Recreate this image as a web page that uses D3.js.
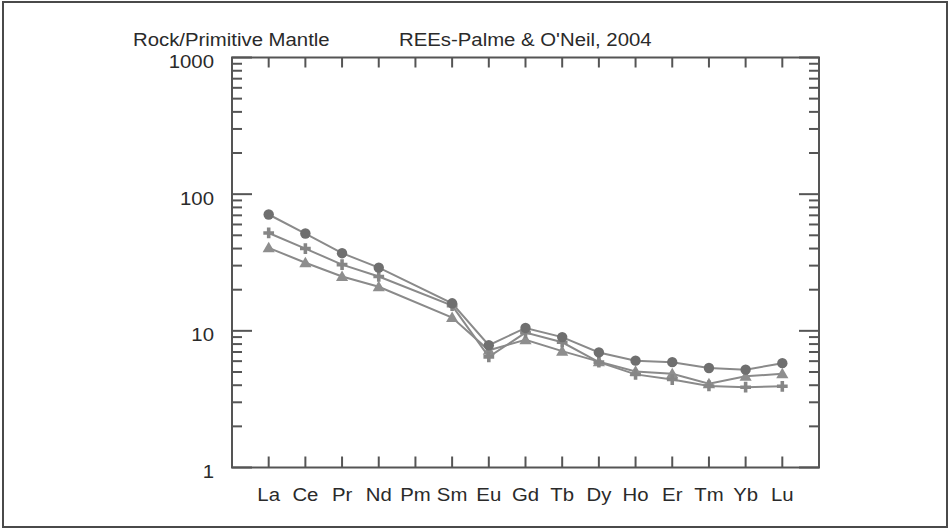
<!DOCTYPE html>
<html><head><meta charset="utf-8">
<script src="https://cdn.jsdelivr.net/npm/d3@7"></script>
<style>html,body{margin:0;padding:0;background:#fff;}svg{display:block;}</style>
</head><body>
<svg id="c" width="949" height="528"></svg>
<script>
const categories = ["La","Ce","Pr","Nd","Pm","Sm","Eu","Gd","Tb","Dy","Ho","Er","Tm","Yb","Lu"];
const seriesCircle   = [71, 51.5, 37, 29, null, 15.9, 7.85, 10.5, 9.0, 6.95, 6.05, 5.9, 5.35, 5.2, 5.8];
const seriesPlus     = [52, 40, 30.5, 25, null, 15.3, 6.45, 9.7, 8.25, 5.9, 4.8, 4.4, 3.95, 3.87, 3.93];
const seriesTriangle = [40.5, 31.5, 25, 21, null, 12.5, 7.2, 8.6, 7.1, 5.95, 5.05, 4.85, 4.1, 4.65, 4.85];
const yTickLabels = [1, 10, 100, 1000];
const titleLeft = "Rock/Primitive Mantle";
const titleRight = "REEs-Palme & O'Neil, 2004";

const svg = d3.select("#c");
const L = 232, R = 819, T = 57.5, B = 467.5;
const axisColor = "#555";
const fontFam = "'Liberation Sans', Arial, Helvetica, sans-serif";
const fs = 18.5, sx = 1.1;

const x = d3.scalePoint().domain(categories).range([L, R]).padding(1);
const y = d3.scaleLog().domain([1, 1000]).range([B, T]);

// outer border
svg.append("rect").attr("x", 3).attr("y", 2).attr("width", 944).attr("height", 525)
  .attr("fill", "none").attr("stroke", "#4a4a4a").attr("stroke-width", 2);

function txt(s, tx, ty, anchor) {
  svg.append("text").attr("transform", `translate(${tx},${ty}) scale(${sx},1)`)
    .attr("text-anchor", anchor).attr("font-family", fontFam).attr("font-size", fs)
    .attr("fill", "#2a2a2a").text(s);
}
// titles
txt(titleLeft, 133, 45.5, "start");
txt(titleRight, 399, 45.5, "start");

// ticks
const g = svg.append("g").attr("stroke", axisColor).attr("stroke-width", 2);
const minor = [];
for (let d = 1; d < 1000; d *= 10) for (let k = 2; k <= 9; k++) minor.push(d * k);
minor.forEach(v => {
  g.append("line").attr("x1", L).attr("x2", L + 10).attr("y1", y(v)).attr("y2", y(v));
  g.append("line").attr("x1", R).attr("x2", R - 10).attr("y1", y(v)).attr("y2", y(v));
});
yTickLabels.forEach(v => {
  g.append("line").attr("x1", L).attr("x2", L + 20).attr("y1", y(v)).attr("y2", y(v));
  g.append("line").attr("x1", R).attr("x2", R - 20).attr("y1", y(v)).attr("y2", y(v));
});
categories.forEach(c => {
  g.append("line").attr("x1", x(c)).attr("x2", x(c)).attr("y1", B).attr("y2", B - 11);
  g.append("line").attr("x1", x(c)).attr("x2", x(c)).attr("y1", T).attr("y2", T + 10);
});
// frame
svg.append("rect").attr("x", L).attr("y", T).attr("width", R - L).attr("height", B - T)
  .attr("fill", "none").attr("stroke", axisColor).attr("stroke-width", 2);

// tick labels
yTickLabels.forEach(v => txt(String(v), 214, y(v) + 10.5, "end"));
categories.forEach(c => txt(c, x(c), 501, "middle"));

// series
const series = [
  {vals: seriesTriangle, sym: d3.symbolTriangle, size: 64, fill: "#8e8e8e"},
  {vals: seriesPlus, sym: d3.symbolCross, size: 64, fill: "#868686"},
  {vals: seriesCircle, sym: d3.symbolCircle, size: 85, fill: "#6f6f6f"}
];
const line = d3.line().x(d => x(d.c)).y(d => y(d.v));
series.forEach(s => {
  const pts = categories.map((c, i) => ({c, v: s.vals[i]})).filter(d => d.v != null);
  svg.append("path").attr("d", line(pts)).attr("fill", "none")
    .attr("stroke", "#8a8a8a").attr("stroke-width", 2);
  svg.append("g").selectAll("path").data(pts).join("path")
    .attr("transform", d => `translate(${x(d.c)},${y(d.v) + (s.sym === d3.symbolTriangle ? 1 : 0)})`)
    .attr("d", d3.symbol().type(s.sym).size(s.size)).attr("fill", s.fill);
});
</script>
</body></html>
